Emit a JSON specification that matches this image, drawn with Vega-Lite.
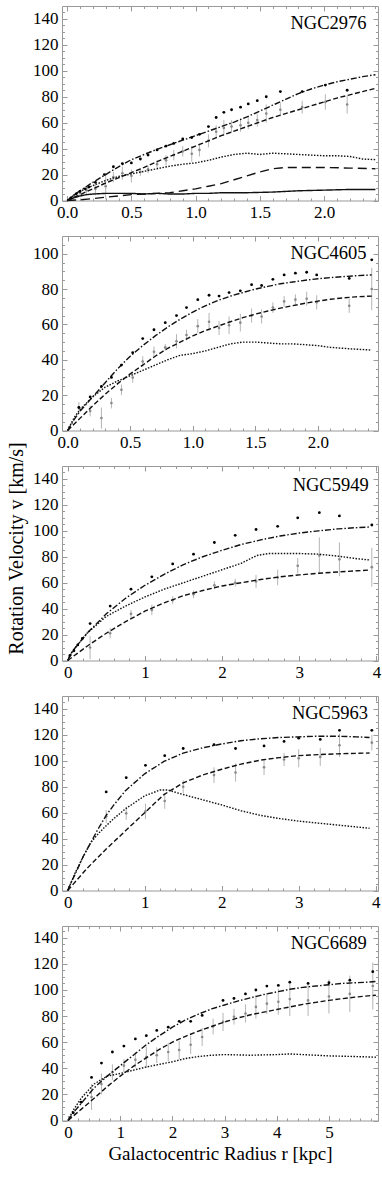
{
"$schema": "https://vega.github.io/schema/vega-lite/v6.json",
"background": "white",
"padding": {"left": 5, "top": 5, "right": 5, "bottom": 5},
"spacing": 35,
"bounds": "flush",
"config": {
  "font": "Liberation Serif",
  "view": {"stroke": "#999", "strokeWidth": 1},
  "axis": {"domain": false, "grid": false, "tickColor": "#999", "tickWidth": 1, "labelFont": "Liberation Serif", "labelFontSize": 17, "labelColor": "#000", "titleFont": "Liberation Serif", "titleFontSize": 19, "titleFontWeight": "normal", "titleColor": "#000", "labelFlush": false, "labelOverlap": false},
  "title": {"font": "Liberation Serif", "fontSize": 18.5, "fontWeight": "normal", "color": "#000"}
},
"datasets": {
"curves": [
{"g":"NGC2976","s":"dd","r":0,"v":0},{"g":"NGC2976","s":"dd","r":0.05,"v":4},{"g":"NGC2976","s":"dd","r":0.1,"v":7.5},{"g":"NGC2976","s":"dd","r":0.2,"v":14},{"g":"NGC2976","s":"dd","r":0.3,"v":20},{"g":"NGC2976","s":"dd","r":0.4,"v":26},{"g":"NGC2976","s":"dd","r":0.5,"v":31.5},{"g":"NGC2976","s":"dd","r":0.6,"v":35.5},{"g":"NGC2976","s":"dd","r":0.7,"v":39.5},{"g":"NGC2976","s":"dd","r":0.8,"v":43},{"g":"NGC2976","s":"dd","r":0.9,"v":46.5},{"g":"NGC2976","s":"dd","r":1.0,"v":50},{"g":"NGC2976","s":"dd","r":1.1,"v":53.5},{"g":"NGC2976","s":"dd","r":1.2,"v":57},{"g":"NGC2976","s":"dd","r":1.3,"v":60.5},{"g":"NGC2976","s":"dd","r":1.4,"v":64.5},{"g":"NGC2976","s":"dd","r":1.5,"v":69},{"g":"NGC2976","s":"dd","r":1.6,"v":73.5},{"g":"NGC2976","s":"dd","r":1.7,"v":78},{"g":"NGC2976","s":"dd","r":1.8,"v":82.5},{"g":"NGC2976","s":"dd","r":1.9,"v":86},{"g":"NGC2976","s":"dd","r":2.0,"v":89},{"g":"NGC2976","s":"dd","r":2.1,"v":91.5},{"g":"NGC2976","s":"dd","r":2.2,"v":93.5},{"g":"NGC2976","s":"dd","r":2.3,"v":95.5},{"g":"NGC2976","s":"dd","r":2.4,"v":97},
{"g":"NGC2976","s":"fit","r":0,"v":0},{"g":"NGC2976","s":"fit","r":0.1,"v":4.5},{"g":"NGC2976","s":"fit","r":0.2,"v":9},{"g":"NGC2976","s":"fit","r":0.3,"v":13.5},{"g":"NGC2976","s":"fit","r":0.4,"v":17.5},{"g":"NGC2976","s":"fit","r":0.5,"v":21.5},{"g":"NGC2976","s":"fit","r":0.6,"v":25.5},{"g":"NGC2976","s":"fit","r":0.7,"v":30},{"g":"NGC2976","s":"fit","r":0.8,"v":34},{"g":"NGC2976","s":"fit","r":0.9,"v":38},{"g":"NGC2976","s":"fit","r":1.0,"v":42},{"g":"NGC2976","s":"fit","r":1.1,"v":46},{"g":"NGC2976","s":"fit","r":1.2,"v":50},{"g":"NGC2976","s":"fit","r":1.3,"v":53.5},{"g":"NGC2976","s":"fit","r":1.4,"v":57},{"g":"NGC2976","s":"fit","r":1.5,"v":60.5},{"g":"NGC2976","s":"fit","r":1.6,"v":64},{"g":"NGC2976","s":"fit","r":1.7,"v":67},{"g":"NGC2976","s":"fit","r":1.8,"v":70},{"g":"NGC2976","s":"fit","r":1.9,"v":73},{"g":"NGC2976","s":"fit","r":2.0,"v":76},{"g":"NGC2976","s":"fit","r":2.1,"v":79},{"g":"NGC2976","s":"fit","r":2.2,"v":81.5},{"g":"NGC2976","s":"fit","r":2.3,"v":84},{"g":"NGC2976","s":"fit","r":2.4,"v":86.5},
{"g":"NGC2976","s":"dot","r":0,"v":0},{"g":"NGC2976","s":"dot","r":0.05,"v":4},{"g":"NGC2976","s":"dot","r":0.1,"v":7},{"g":"NGC2976","s":"dot","r":0.2,"v":11.5},{"g":"NGC2976","s":"dot","r":0.3,"v":15.5},{"g":"NGC2976","s":"dot","r":0.4,"v":18.5},{"g":"NGC2976","s":"dot","r":0.5,"v":20.5},{"g":"NGC2976","s":"dot","r":0.6,"v":22.5},{"g":"NGC2976","s":"dot","r":0.7,"v":24.5},{"g":"NGC2976","s":"dot","r":0.8,"v":26.5},{"g":"NGC2976","s":"dot","r":0.9,"v":28},{"g":"NGC2976","s":"dot","r":1.0,"v":29},{"g":"NGC2976","s":"dot","r":1.1,"v":31},{"g":"NGC2976","s":"dot","r":1.2,"v":33.5},{"g":"NGC2976","s":"dot","r":1.3,"v":35.5},{"g":"NGC2976","s":"dot","r":1.4,"v":36.5},{"g":"NGC2976","s":"dot","r":1.5,"v":35.5},{"g":"NGC2976","s":"dot","r":1.6,"v":36.5},{"g":"NGC2976","s":"dot","r":1.7,"v":36},{"g":"NGC2976","s":"dot","r":1.8,"v":35.5},{"g":"NGC2976","s":"dot","r":1.9,"v":35},{"g":"NGC2976","s":"dot","r":2.0,"v":34.5},{"g":"NGC2976","s":"dot","r":2.1,"v":34.5},{"g":"NGC2976","s":"dot","r":2.2,"v":34},{"g":"NGC2976","s":"dot","r":2.3,"v":32},{"g":"NGC2976","s":"dot","r":2.4,"v":31.5},
{"g":"NGC2976","s":"ldash","r":0,"v":0},{"g":"NGC2976","s":"ldash","r":0.1,"v":0.5},{"g":"NGC2976","s":"ldash","r":0.2,"v":1.5},{"g":"NGC2976","s":"ldash","r":0.3,"v":2.5},{"g":"NGC2976","s":"ldash","r":0.4,"v":3.5},{"g":"NGC2976","s":"ldash","r":0.5,"v":4.5},{"g":"NGC2976","s":"ldash","r":0.6,"v":5},{"g":"NGC2976","s":"ldash","r":0.7,"v":5.5},{"g":"NGC2976","s":"ldash","r":0.8,"v":6},{"g":"NGC2976","s":"ldash","r":0.9,"v":7.5},{"g":"NGC2976","s":"ldash","r":1.0,"v":9},{"g":"NGC2976","s":"ldash","r":1.1,"v":11},{"g":"NGC2976","s":"ldash","r":1.2,"v":13},{"g":"NGC2976","s":"ldash","r":1.3,"v":16},{"g":"NGC2976","s":"ldash","r":1.4,"v":19},{"g":"NGC2976","s":"ldash","r":1.5,"v":22},{"g":"NGC2976","s":"ldash","r":1.6,"v":24.5},{"g":"NGC2976","s":"ldash","r":1.7,"v":25.5},{"g":"NGC2976","s":"ldash","r":1.8,"v":25.5},{"g":"NGC2976","s":"ldash","r":2.0,"v":25.5},{"g":"NGC2976","s":"ldash","r":2.2,"v":25},{"g":"NGC2976","s":"ldash","r":2.4,"v":24.5},
{"g":"NGC2976","s":"solid","r":0,"v":0},{"g":"NGC2976","s":"solid","r":0.05,"v":2},{"g":"NGC2976","s":"solid","r":0.1,"v":3.5},{"g":"NGC2976","s":"solid","r":0.15,"v":4.5},{"g":"NGC2976","s":"solid","r":0.2,"v":5},{"g":"NGC2976","s":"solid","r":0.3,"v":5.5},{"g":"NGC2976","s":"solid","r":0.5,"v":5.5},{"g":"NGC2976","s":"solid","r":0.6,"v":5},{"g":"NGC2976","s":"solid","r":0.7,"v":5.5},{"g":"NGC2976","s":"solid","r":0.8,"v":5},{"g":"NGC2976","s":"solid","r":0.9,"v":5},{"g":"NGC2976","s":"solid","r":1.0,"v":5.5},{"g":"NGC2976","s":"solid","r":1.1,"v":5.5},{"g":"NGC2976","s":"solid","r":1.2,"v":6},{"g":"NGC2976","s":"solid","r":1.4,"v":6},{"g":"NGC2976","s":"solid","r":1.6,"v":6.5},{"g":"NGC2976","s":"solid","r":1.8,"v":7.5},{"g":"NGC2976","s":"solid","r":2.0,"v":8},{"g":"NGC2976","s":"solid","r":2.2,"v":8.5},{"g":"NGC2976","s":"solid","r":2.4,"v":8.5},

{"g":"NGC4605","s":"dd","r":0,"v":0},{"g":"NGC4605","s":"dd","r":0.05,"v":6},{"g":"NGC4605","s":"dd","r":0.1,"v":11},{"g":"NGC4605","s":"dd","r":0.2,"v":19},{"g":"NGC4605","s":"dd","r":0.3,"v":27},{"g":"NGC4605","s":"dd","r":0.4,"v":35},{"g":"NGC4605","s":"dd","r":0.5,"v":42},{"g":"NGC4605","s":"dd","r":0.6,"v":48},{"g":"NGC4605","s":"dd","r":0.7,"v":53.5},{"g":"NGC4605","s":"dd","r":0.8,"v":58.5},{"g":"NGC4605","s":"dd","r":0.9,"v":63},{"g":"NGC4605","s":"dd","r":1.0,"v":67},{"g":"NGC4605","s":"dd","r":1.1,"v":70.5},{"g":"NGC4605","s":"dd","r":1.2,"v":73.5},{"g":"NGC4605","s":"dd","r":1.3,"v":76},{"g":"NGC4605","s":"dd","r":1.4,"v":78},{"g":"NGC4605","s":"dd","r":1.5,"v":80},{"g":"NGC4605","s":"dd","r":1.6,"v":81.5},{"g":"NGC4605","s":"dd","r":1.7,"v":83},{"g":"NGC4605","s":"dd","r":1.8,"v":84},{"g":"NGC4605","s":"dd","r":1.9,"v":85},{"g":"NGC4605","s":"dd","r":2.0,"v":85.8},{"g":"NGC4605","s":"dd","r":2.1,"v":86.5},{"g":"NGC4605","s":"dd","r":2.2,"v":87},{"g":"NGC4605","s":"dd","r":2.3,"v":87.5},{"g":"NGC4605","s":"dd","r":2.43,"v":88},
{"g":"NGC4605","s":"fit","r":0,"v":0},{"g":"NGC4605","s":"fit","r":0.1,"v":7},{"g":"NGC4605","s":"fit","r":0.2,"v":14},{"g":"NGC4605","s":"fit","r":0.3,"v":20.5},{"g":"NGC4605","s":"fit","r":0.4,"v":26.5},{"g":"NGC4605","s":"fit","r":0.5,"v":32},{"g":"NGC4605","s":"fit","r":0.6,"v":37},{"g":"NGC4605","s":"fit","r":0.7,"v":42},{"g":"NGC4605","s":"fit","r":0.8,"v":46.5},{"g":"NGC4605","s":"fit","r":0.9,"v":50},{"g":"NGC4605","s":"fit","r":1.0,"v":53.5},{"g":"NGC4605","s":"fit","r":1.1,"v":56.5},{"g":"NGC4605","s":"fit","r":1.2,"v":59},{"g":"NGC4605","s":"fit","r":1.3,"v":61.5},{"g":"NGC4605","s":"fit","r":1.4,"v":63.8},{"g":"NGC4605","s":"fit","r":1.5,"v":65.8},{"g":"NGC4605","s":"fit","r":1.6,"v":67.6},{"g":"NGC4605","s":"fit","r":1.7,"v":69.2},{"g":"NGC4605","s":"fit","r":1.8,"v":70.6},{"g":"NGC4605","s":"fit","r":1.9,"v":72},{"g":"NGC4605","s":"fit","r":2.0,"v":73.2},{"g":"NGC4605","s":"fit","r":2.1,"v":74.2},{"g":"NGC4605","s":"fit","r":2.2,"v":75},{"g":"NGC4605","s":"fit","r":2.3,"v":75.6},{"g":"NGC4605","s":"fit","r":2.43,"v":76},
{"g":"NGC4605","s":"dot","r":0,"v":0},{"g":"NGC4605","s":"dot","r":0.05,"v":7},{"g":"NGC4605","s":"dot","r":0.1,"v":12},{"g":"NGC4605","s":"dot","r":0.2,"v":19},{"g":"NGC4605","s":"dot","r":0.3,"v":24.5},{"g":"NGC4605","s":"dot","r":0.4,"v":28},{"g":"NGC4605","s":"dot","r":0.5,"v":31},{"g":"NGC4605","s":"dot","r":0.6,"v":34},{"g":"NGC4605","s":"dot","r":0.7,"v":37},{"g":"NGC4605","s":"dot","r":0.8,"v":40},{"g":"NGC4605","s":"dot","r":0.9,"v":42.5},{"g":"NGC4605","s":"dot","r":1.0,"v":43.5},{"g":"NGC4605","s":"dot","r":1.1,"v":45},{"g":"NGC4605","s":"dot","r":1.2,"v":47},{"g":"NGC4605","s":"dot","r":1.3,"v":49},{"g":"NGC4605","s":"dot","r":1.4,"v":50},{"g":"NGC4605","s":"dot","r":1.5,"v":50},{"g":"NGC4605","s":"dot","r":1.6,"v":49.5},{"g":"NGC4605","s":"dot","r":1.7,"v":49},{"g":"NGC4605","s":"dot","r":1.8,"v":49},{"g":"NGC4605","s":"dot","r":1.9,"v":48.5},{"g":"NGC4605","s":"dot","r":2.0,"v":48},{"g":"NGC4605","s":"dot","r":2.1,"v":47},{"g":"NGC4605","s":"dot","r":2.2,"v":46.5},{"g":"NGC4605","s":"dot","r":2.3,"v":46},{"g":"NGC4605","s":"dot","r":2.43,"v":45.5},

{"g":"NGC5949","s":"dd","r":0,"v":0},{"g":"NGC5949","s":"dd","r":0.05,"v":6},{"g":"NGC5949","s":"dd","r":0.1,"v":10},{"g":"NGC5949","s":"dd","r":0.25,"v":21},{"g":"NGC5949","s":"dd","r":0.5,"v":36},{"g":"NGC5949","s":"dd","r":0.75,"v":48},{"g":"NGC5949","s":"dd","r":1.0,"v":58},{"g":"NGC5949","s":"dd","r":1.25,"v":66.5},{"g":"NGC5949","s":"dd","r":1.5,"v":74},{"g":"NGC5949","s":"dd","r":1.75,"v":80},{"g":"NGC5949","s":"dd","r":2.0,"v":85},{"g":"NGC5949","s":"dd","r":2.25,"v":89.5},{"g":"NGC5949","s":"dd","r":2.5,"v":93},{"g":"NGC5949","s":"dd","r":2.75,"v":96},{"g":"NGC5949","s":"dd","r":3.0,"v":98.3},{"g":"NGC5949","s":"dd","r":3.25,"v":100},{"g":"NGC5949","s":"dd","r":3.5,"v":101.5},{"g":"NGC5949","s":"dd","r":3.75,"v":102.5},{"g":"NGC5949","s":"dd","r":3.92,"v":103},
{"g":"NGC5949","s":"dot","r":0,"v":0},{"g":"NGC5949","s":"dot","r":0.05,"v":6},{"g":"NGC5949","s":"dot","r":0.1,"v":10},{"g":"NGC5949","s":"dot","r":0.25,"v":21},{"g":"NGC5949","s":"dot","r":0.5,"v":34},{"g":"NGC5949","s":"dot","r":0.75,"v":42},{"g":"NGC5949","s":"dot","r":1.0,"v":49},{"g":"NGC5949","s":"dot","r":1.25,"v":55},{"g":"NGC5949","s":"dot","r":1.5,"v":60},{"g":"NGC5949","s":"dot","r":1.75,"v":65},{"g":"NGC5949","s":"dot","r":2.0,"v":70},{"g":"NGC5949","s":"dot","r":2.25,"v":75},{"g":"NGC5949","s":"dot","r":2.45,"v":81},{"g":"NGC5949","s":"dot","r":2.6,"v":82.5},{"g":"NGC5949","s":"dot","r":2.75,"v":82.5},{"g":"NGC5949","s":"dot","r":3.0,"v":82.5},{"g":"NGC5949","s":"dot","r":3.25,"v":82},{"g":"NGC5949","s":"dot","r":3.5,"v":80.5},{"g":"NGC5949","s":"dot","r":3.75,"v":78.5},{"g":"NGC5949","s":"dot","r":3.92,"v":77.5},
{"g":"NGC5949","s":"fit","r":0,"v":0},{"g":"NGC5949","s":"fit","r":0.25,"v":11},{"g":"NGC5949","s":"fit","r":0.5,"v":21},{"g":"NGC5949","s":"fit","r":0.75,"v":30},{"g":"NGC5949","s":"fit","r":1.0,"v":38},{"g":"NGC5949","s":"fit","r":1.25,"v":44.5},{"g":"NGC5949","s":"fit","r":1.5,"v":50},{"g":"NGC5949","s":"fit","r":1.75,"v":54},{"g":"NGC5949","s":"fit","r":2.0,"v":57.5},{"g":"NGC5949","s":"fit","r":2.25,"v":60},{"g":"NGC5949","s":"fit","r":2.5,"v":62.5},{"g":"NGC5949","s":"fit","r":2.75,"v":64.5},{"g":"NGC5949","s":"fit","r":3.0,"v":66},{"g":"NGC5949","s":"fit","r":3.25,"v":67.3},{"g":"NGC5949","s":"fit","r":3.5,"v":68.3},{"g":"NGC5949","s":"fit","r":3.75,"v":69.2},{"g":"NGC5949","s":"fit","r":3.92,"v":69.8},

{"g":"NGC5963","s":"dd","r":0,"v":0},{"g":"NGC5963","s":"dd","r":0.05,"v":7},{"g":"NGC5963","s":"dd","r":0.1,"v":13},{"g":"NGC5963","s":"dd","r":0.2,"v":26},{"g":"NGC5963","s":"dd","r":0.3,"v":37},{"g":"NGC5963","s":"dd","r":0.4,"v":48},{"g":"NGC5963","s":"dd","r":0.5,"v":58},{"g":"NGC5963","s":"dd","r":0.6,"v":66},{"g":"NGC5963","s":"dd","r":0.75,"v":77},{"g":"NGC5963","s":"dd","r":1.0,"v":90},{"g":"NGC5963","s":"dd","r":1.25,"v":99.5},{"g":"NGC5963","s":"dd","r":1.5,"v":106},{"g":"NGC5963","s":"dd","r":1.75,"v":110},{"g":"NGC5963","s":"dd","r":2.0,"v":113},{"g":"NGC5963","s":"dd","r":2.25,"v":115.5},{"g":"NGC5963","s":"dd","r":2.5,"v":117},{"g":"NGC5963","s":"dd","r":2.75,"v":118},{"g":"NGC5963","s":"dd","r":3.0,"v":118.5},{"g":"NGC5963","s":"dd","r":3.25,"v":119},{"g":"NGC5963","s":"dd","r":3.5,"v":119},{"g":"NGC5963","s":"dd","r":3.75,"v":118.5},{"g":"NGC5963","s":"dd","r":3.92,"v":118},
{"g":"NGC5963","s":"dot","r":0,"v":0},{"g":"NGC5963","s":"dot","r":0.05,"v":7},{"g":"NGC5963","s":"dot","r":0.1,"v":14},{"g":"NGC5963","s":"dot","r":0.2,"v":26},{"g":"NGC5963","s":"dot","r":0.3,"v":37},{"g":"NGC5963","s":"dot","r":0.4,"v":44},{"g":"NGC5963","s":"dot","r":0.5,"v":50},{"g":"NGC5963","s":"dot","r":0.6,"v":55.5},{"g":"NGC5963","s":"dot","r":0.75,"v":63},{"g":"NGC5963","s":"dot","r":1.0,"v":73},{"g":"NGC5963","s":"dot","r":1.2,"v":77.5},{"g":"NGC5963","s":"dot","r":1.3,"v":77.5},{"g":"NGC5963","s":"dot","r":1.5,"v":74},{"g":"NGC5963","s":"dot","r":1.75,"v":70},{"g":"NGC5963","s":"dot","r":2.0,"v":66},{"g":"NGC5963","s":"dot","r":2.25,"v":61.5},{"g":"NGC5963","s":"dot","r":2.5,"v":58},{"g":"NGC5963","s":"dot","r":2.75,"v":55.5},{"g":"NGC5963","s":"dot","r":3.0,"v":53.5},{"g":"NGC5963","s":"dot","r":3.25,"v":52},{"g":"NGC5963","s":"dot","r":3.5,"v":50.5},{"g":"NGC5963","s":"dot","r":3.75,"v":49},{"g":"NGC5963","s":"dot","r":3.92,"v":48},
{"g":"NGC5963","s":"fit","r":0,"v":0},{"g":"NGC5963","s":"fit","r":0.25,"v":17},{"g":"NGC5963","s":"fit","r":0.5,"v":32},{"g":"NGC5963","s":"fit","r":0.75,"v":46},{"g":"NGC5963","s":"fit","r":1.0,"v":60},{"g":"NGC5963","s":"fit","r":1.25,"v":74},{"g":"NGC5963","s":"fit","r":1.5,"v":83},{"g":"NGC5963","s":"fit","r":1.75,"v":89},{"g":"NGC5963","s":"fit","r":2.0,"v":93.5},{"g":"NGC5963","s":"fit","r":2.25,"v":97.5},{"g":"NGC5963","s":"fit","r":2.5,"v":100.5},{"g":"NGC5963","s":"fit","r":2.75,"v":102.5},{"g":"NGC5963","s":"fit","r":3.0,"v":104},{"g":"NGC5963","s":"fit","r":3.25,"v":104.8},{"g":"NGC5963","s":"fit","r":3.5,"v":105.4},{"g":"NGC5963","s":"fit","r":3.75,"v":105.8},{"g":"NGC5963","s":"fit","r":3.92,"v":106},

{"g":"NGC6689","s":"dd","r":0,"v":0},{"g":"NGC6689","s":"dd","r":0.1,"v":6},{"g":"NGC6689","s":"dd","r":0.25,"v":13},{"g":"NGC6689","s":"dd","r":0.5,"v":25},{"g":"NGC6689","s":"dd","r":0.75,"v":34},{"g":"NGC6689","s":"dd","r":1.0,"v":42},{"g":"NGC6689","s":"dd","r":1.25,"v":50},{"g":"NGC6689","s":"dd","r":1.5,"v":58},{"g":"NGC6689","s":"dd","r":1.75,"v":65},{"g":"NGC6689","s":"dd","r":2.0,"v":71.5},{"g":"NGC6689","s":"dd","r":2.25,"v":77},{"g":"NGC6689","s":"dd","r":2.5,"v":81.5},{"g":"NGC6689","s":"dd","r":2.75,"v":85.5},{"g":"NGC6689","s":"dd","r":3.0,"v":88.5},{"g":"NGC6689","s":"dd","r":3.25,"v":91.5},{"g":"NGC6689","s":"dd","r":3.5,"v":94},{"g":"NGC6689","s":"dd","r":3.75,"v":96.5},{"g":"NGC6689","s":"dd","r":4.0,"v":98.5},{"g":"NGC6689","s":"dd","r":4.25,"v":100.5},{"g":"NGC6689","s":"dd","r":4.5,"v":102},{"g":"NGC6689","s":"dd","r":4.75,"v":103},{"g":"NGC6689","s":"dd","r":5.0,"v":104},{"g":"NGC6689","s":"dd","r":5.25,"v":105},{"g":"NGC6689","s":"dd","r":5.5,"v":105.5},{"g":"NGC6689","s":"dd","r":5.75,"v":106},{"g":"NGC6689","s":"dd","r":5.9,"v":106.5},
{"g":"NGC6689","s":"dot","r":0,"v":0},{"g":"NGC6689","s":"dot","r":0.1,"v":8},{"g":"NGC6689","s":"dot","r":0.25,"v":17},{"g":"NGC6689","s":"dot","r":0.5,"v":28},{"g":"NGC6689","s":"dot","r":0.75,"v":34},{"g":"NGC6689","s":"dot","r":1.0,"v":36},{"g":"NGC6689","s":"dot","r":1.25,"v":38.5},{"g":"NGC6689","s":"dot","r":1.5,"v":41},{"g":"NGC6689","s":"dot","r":1.75,"v":43},{"g":"NGC6689","s":"dot","r":2.0,"v":45},{"g":"NGC6689","s":"dot","r":2.25,"v":47.5},{"g":"NGC6689","s":"dot","r":2.5,"v":49},{"g":"NGC6689","s":"dot","r":2.75,"v":50},{"g":"NGC6689","s":"dot","r":3.0,"v":50.5},{"g":"NGC6689","s":"dot","r":3.5,"v":50},{"g":"NGC6689","s":"dot","r":4.0,"v":50.5},{"g":"NGC6689","s":"dot","r":4.25,"v":51},{"g":"NGC6689","s":"dot","r":4.5,"v":50.5},{"g":"NGC6689","s":"dot","r":5.0,"v":49.5},{"g":"NGC6689","s":"dot","r":5.5,"v":49},{"g":"NGC6689","s":"dot","r":5.9,"v":48.5},
{"g":"NGC6689","s":"fit","r":0,"v":0},{"g":"NGC6689","s":"fit","r":0.25,"v":8.5},{"g":"NGC6689","s":"fit","r":0.5,"v":17},{"g":"NGC6689","s":"fit","r":0.75,"v":26},{"g":"NGC6689","s":"fit","r":1.0,"v":34},{"g":"NGC6689","s":"fit","r":1.25,"v":41.5},{"g":"NGC6689","s":"fit","r":1.5,"v":48},{"g":"NGC6689","s":"fit","r":1.75,"v":54.5},{"g":"NGC6689","s":"fit","r":2.0,"v":60},{"g":"NGC6689","s":"fit","r":2.25,"v":64.5},{"g":"NGC6689","s":"fit","r":2.5,"v":68.5},{"g":"NGC6689","s":"fit","r":2.75,"v":72},{"g":"NGC6689","s":"fit","r":3.0,"v":75.5},{"g":"NGC6689","s":"fit","r":3.25,"v":78.5},{"g":"NGC6689","s":"fit","r":3.5,"v":81},{"g":"NGC6689","s":"fit","r":3.75,"v":83},{"g":"NGC6689","s":"fit","r":4.0,"v":85},{"g":"NGC6689","s":"fit","r":4.25,"v":87},{"g":"NGC6689","s":"fit","r":4.5,"v":89},{"g":"NGC6689","s":"fit","r":4.75,"v":90.5},{"g":"NGC6689","s":"fit","r":5.0,"v":92},{"g":"NGC6689","s":"fit","r":5.25,"v":93.3},{"g":"NGC6689","s":"fit","r":5.5,"v":94.5},{"g":"NGC6689","s":"fit","r":5.75,"v":95.5},{"g":"NGC6689","s":"fit","r":5.9,"v":96}
],
"obs": [
{"g":"NGC2976","r":0.03,"v":2},{"g":"NGC2976","r":0.07,"v":5},{"g":"NGC2976","r":0.1,"v":7},{"g":"NGC2976","r":0.14,"v":9},{"g":"NGC2976","r":0.17,"v":10.5},{"g":"NGC2976","r":0.22,"v":14},{"g":"NGC2976","r":0.29,"v":20},{"g":"NGC2976","r":0.36,"v":26},{"g":"NGC2976","r":0.43,"v":28.5},{"g":"NGC2976","r":0.5,"v":29},{"g":"NGC2976","r":0.57,"v":32},{"g":"NGC2976","r":0.63,"v":35},{"g":"NGC2976","r":0.7,"v":39},{"g":"NGC2976","r":0.77,"v":42},{"g":"NGC2976","r":0.83,"v":44},{"g":"NGC2976","r":0.9,"v":47.5},{"g":"NGC2976","r":0.97,"v":48.5},{"g":"NGC2976","r":1.03,"v":51},{"g":"NGC2976","r":1.1,"v":57},{"g":"NGC2976","r":1.16,"v":64},{"g":"NGC2976","r":1.22,"v":68},{"g":"NGC2976","r":1.28,"v":70},{"g":"NGC2976","r":1.35,"v":72},{"g":"NGC2976","r":1.41,"v":74.5},{"g":"NGC2976","r":1.48,"v":77},{"g":"NGC2976","r":1.55,"v":80},{"g":"NGC2976","r":1.66,"v":84},{"g":"NGC2976","r":1.83,"v":84},{"g":"NGC2976","r":2.01,"v":89},{"g":"NGC2976","r":2.18,"v":85},
{"g":"NGC4605","r":0.09,"v":13},{"g":"NGC4605","r":0.18,"v":19},{"g":"NGC4605","r":0.27,"v":25},{"g":"NGC4605","r":0.35,"v":30},{"g":"NGC4605","r":0.43,"v":37},{"g":"NGC4605","r":0.52,"v":44},{"g":"NGC4605","r":0.6,"v":52},{"g":"NGC4605","r":0.69,"v":57},{"g":"NGC4605","r":0.78,"v":61},{"g":"NGC4605","r":0.87,"v":65},{"g":"NGC4605","r":0.95,"v":69.5},{"g":"NGC4605","r":1.04,"v":74},{"g":"NGC4605","r":1.13,"v":76.5},{"g":"NGC4605","r":1.21,"v":76},{"g":"NGC4605","r":1.29,"v":78},{"g":"NGC4605","r":1.38,"v":79},{"g":"NGC4605","r":1.47,"v":82.5},{"g":"NGC4605","r":1.55,"v":82},{"g":"NGC4605","r":1.64,"v":85.5},{"g":"NGC4605","r":1.73,"v":88},{"g":"NGC4605","r":1.82,"v":89},{"g":"NGC4605","r":1.91,"v":89.5},{"g":"NGC4605","r":1.99,"v":88},{"g":"NGC4605","r":2.25,"v":86},{"g":"NGC4605","r":2.43,"v":96.5},
{"g":"NGC5949","r":0.03,"v":4},{"g":"NGC5949","r":0.08,"v":7.5},{"g":"NGC5949","r":0.13,"v":12},{"g":"NGC5949","r":0.19,"v":17},{"g":"NGC5949","r":0.29,"v":28.5},{"g":"NGC5949","r":0.55,"v":42},{"g":"NGC5949","r":0.82,"v":55},{"g":"NGC5949","r":1.09,"v":64.5},{"g":"NGC5949","r":1.36,"v":74.5},{"g":"NGC5949","r":1.63,"v":82},{"g":"NGC5949","r":1.9,"v":91},{"g":"NGC5949","r":2.17,"v":96.5},{"g":"NGC5949","r":2.44,"v":101},{"g":"NGC5949","r":2.72,"v":103.5},{"g":"NGC5949","r":2.98,"v":110},{"g":"NGC5949","r":3.26,"v":114},{"g":"NGC5949","r":3.52,"v":111.5},{"g":"NGC5949","r":3.94,"v":104.5},
{"g":"NGC5963","r":0.5,"v":76},{"g":"NGC5963","r":0.76,"v":87},{"g":"NGC5963","r":1.01,"v":96.5},{"g":"NGC5963","r":1.26,"v":104},{"g":"NGC5963","r":1.5,"v":109.5},{"g":"NGC5963","r":1.9,"v":112.5},{"g":"NGC5963","r":2.18,"v":109.5},{"g":"NGC5963","r":2.55,"v":111.5},{"g":"NGC5963","r":2.81,"v":115},{"g":"NGC5963","r":3.0,"v":117.5},{"g":"NGC5963","r":3.28,"v":116.5},{"g":"NGC5963","r":3.53,"v":123.5},{"g":"NGC5963","r":3.95,"v":123.5},
{"g":"NGC6689","r":0.1,"v":6},{"g":"NGC6689","r":0.25,"v":14},{"g":"NGC6689","r":0.45,"v":33},{"g":"NGC6689","r":0.64,"v":44},{"g":"NGC6689","r":0.85,"v":52.5},{"g":"NGC6689","r":1.07,"v":57},{"g":"NGC6689","r":1.29,"v":62.5},{"g":"NGC6689","r":1.5,"v":65},{"g":"NGC6689","r":1.7,"v":69},{"g":"NGC6689","r":1.92,"v":71.5},{"g":"NGC6689","r":2.13,"v":76},{"g":"NGC6689","r":2.35,"v":76},{"g":"NGC6689","r":2.57,"v":80.5},{"g":"NGC6689","r":2.97,"v":92},{"g":"NGC6689","r":3.18,"v":93.5},{"g":"NGC6689","r":3.4,"v":97},{"g":"NGC6689","r":3.6,"v":100},{"g":"NGC6689","r":3.81,"v":103},{"g":"NGC6689","r":4.03,"v":103.5},{"g":"NGC6689","r":4.25,"v":106},{"g":"NGC6689","r":4.6,"v":105},{"g":"NGC6689","r":5.0,"v":105.5},{"g":"NGC6689","r":5.4,"v":107.5},{"g":"NGC6689","r":5.84,"v":114}
],
"err": [
{"g":"NGC2976","r":0.05,"v":3,"lo":1,"hi":5},{"g":"NGC2976","r":0.1,"v":6,"lo":4,"hi":8},{"g":"NGC2976","r":0.15,"v":8,"lo":5,"hi":11},{"g":"NGC2976","r":0.22,"v":9,"lo":4,"hi":14},{"g":"NGC2976","r":0.3,"v":11,"lo":1,"hi":21},{"g":"NGC2976","r":0.36,"v":18,"lo":14,"hi":22},{"g":"NGC2976","r":0.43,"v":21,"lo":16,"hi":26},{"g":"NGC2976","r":0.5,"v":19,"lo":14,"hi":24},{"g":"NGC2976","r":0.57,"v":22,"lo":19,"hi":25},{"g":"NGC2976","r":0.63,"v":24,"lo":21,"hi":27},{"g":"NGC2976","r":0.7,"v":28,"lo":25,"hi":31},{"g":"NGC2976","r":0.77,"v":31,"lo":27,"hi":35},{"g":"NGC2976","r":0.83,"v":35,"lo":31,"hi":39},{"g":"NGC2976","r":0.9,"v":38,"lo":34,"hi":42},{"g":"NGC2976","r":0.97,"v":36,"lo":30,"hi":42},{"g":"NGC2976","r":1.03,"v":39,"lo":34,"hi":44},{"g":"NGC2976","r":1.1,"v":46,"lo":41,"hi":51},{"g":"NGC2976","r":1.16,"v":53,"lo":48,"hi":58},{"g":"NGC2976","r":1.22,"v":56,"lo":50,"hi":62},{"g":"NGC2976","r":1.28,"v":57,"lo":52,"hi":62},{"g":"NGC2976","r":1.35,"v":58,"lo":53,"hi":63},{"g":"NGC2976","r":1.41,"v":60,"lo":55,"hi":65},{"g":"NGC2976","r":1.48,"v":62,"lo":57,"hi":67},{"g":"NGC2976","r":1.55,"v":67,"lo":60,"hi":74},{"g":"NGC2976","r":1.66,"v":70,"lo":65,"hi":75},{"g":"NGC2976","r":1.83,"v":72,"lo":67,"hi":77},{"g":"NGC2976","r":2.01,"v":76,"lo":70,"hi":82},{"g":"NGC2976","r":2.18,"v":74,"lo":67,"hi":81},
{"g":"NGC4605","r":0.09,"v":13,"lo":10,"hi":16},{"g":"NGC4605","r":0.18,"v":11,"lo":8,"hi":14},{"g":"NGC4605","r":0.27,"v":7,"lo":1,"hi":13},{"g":"NGC4605","r":0.35,"v":15.5,"lo":12.5,"hi":18.5},{"g":"NGC4605","r":0.43,"v":23,"lo":20,"hi":26},{"g":"NGC4605","r":0.52,"v":30,"lo":27,"hi":33},{"g":"NGC4605","r":0.6,"v":39,"lo":36,"hi":42},{"g":"NGC4605","r":0.69,"v":44.5,"lo":41.5,"hi":47.5},{"g":"NGC4605","r":0.78,"v":47,"lo":45,"hi":49},{"g":"NGC4605","r":0.87,"v":50.5,"lo":46.5,"hi":54.5},{"g":"NGC4605","r":0.95,"v":54,"lo":51,"hi":57},{"g":"NGC4605","r":1.04,"v":59,"lo":55,"hi":63},{"g":"NGC4605","r":1.13,"v":61.5,"lo":56.5,"hi":66.5},{"g":"NGC4605","r":1.21,"v":58,"lo":54,"hi":62},{"g":"NGC4605","r":1.29,"v":59.5,"lo":54.5,"hi":64.5},{"g":"NGC4605","r":1.38,"v":61,"lo":56,"hi":66},{"g":"NGC4605","r":1.47,"v":65,"lo":61,"hi":69},{"g":"NGC4605","r":1.55,"v":64.5,"lo":60.5,"hi":68.5},{"g":"NGC4605","r":1.64,"v":69.5,"lo":66.5,"hi":72.5},{"g":"NGC4605","r":1.73,"v":73,"lo":70,"hi":76},{"g":"NGC4605","r":1.82,"v":74,"lo":71,"hi":77},{"g":"NGC4605","r":1.91,"v":74.5,"lo":70.5,"hi":78.5},{"g":"NGC4605","r":1.99,"v":72.5,"lo":68.5,"hi":76.5},{"g":"NGC4605","r":2.25,"v":70.5,"lo":66.5,"hi":74.5},{"g":"NGC4605","r":2.43,"v":80,"lo":68,"hi":92},
{"g":"NGC5949","r":0.29,"v":10,"lo":1,"hi":19},{"g":"NGC5949","r":0.55,"v":21,"lo":17,"hi":25},{"g":"NGC5949","r":0.82,"v":36,"lo":33,"hi":39},{"g":"NGC5949","r":1.09,"v":39,"lo":35,"hi":43},{"g":"NGC5949","r":1.36,"v":46.5,"lo":43.5,"hi":49.5},{"g":"NGC5949","r":1.63,"v":51,"lo":48,"hi":54},{"g":"NGC5949","r":1.9,"v":58,"lo":55,"hi":61},{"g":"NGC5949","r":2.17,"v":60,"lo":57,"hi":63},{"g":"NGC5949","r":2.44,"v":61,"lo":56,"hi":66},{"g":"NGC5949","r":2.72,"v":64,"lo":58,"hi":70},{"g":"NGC5949","r":2.98,"v":73,"lo":67,"hi":79},{"g":"NGC5949","r":3.26,"v":81,"lo":67,"hi":95},{"g":"NGC5949","r":3.52,"v":78,"lo":65,"hi":91},{"g":"NGC5949","r":3.94,"v":72,"lo":57,"hi":87},
{"g":"NGC5963","r":0.5,"v":57,"lo":52,"hi":62},{"g":"NGC5963","r":0.76,"v":59.5,"lo":54.5,"hi":64.5},{"g":"NGC5963","r":1.01,"v":61,"lo":55,"hi":67},{"g":"NGC5963","r":1.26,"v":69,"lo":63,"hi":75},{"g":"NGC5963","r":1.5,"v":80,"lo":75,"hi":85},{"g":"NGC5963","r":1.9,"v":89,"lo":83,"hi":95},{"g":"NGC5963","r":2.18,"v":91,"lo":84,"hi":98},{"g":"NGC5963","r":2.55,"v":95,"lo":89,"hi":101},{"g":"NGC5963","r":2.81,"v":101,"lo":96,"hi":106},{"g":"NGC5963","r":3.0,"v":102,"lo":95,"hi":109},{"g":"NGC5963","r":3.28,"v":103,"lo":96,"hi":110},{"g":"NGC5963","r":3.53,"v":112,"lo":103,"hi":121},{"g":"NGC5963","r":3.95,"v":114,"lo":108,"hi":120},
{"g":"NGC6689","r":0.45,"v":18,"lo":8,"hi":28},{"g":"NGC6689","r":0.64,"v":28,"lo":20,"hi":36},{"g":"NGC6689","r":0.85,"v":37,"lo":31,"hi":43},{"g":"NGC6689","r":1.07,"v":42,"lo":37,"hi":47},{"g":"NGC6689","r":1.29,"v":46.5,"lo":40.5,"hi":52.5},{"g":"NGC6689","r":1.5,"v":48.5,"lo":40.5,"hi":56.5},{"g":"NGC6689","r":1.7,"v":50,"lo":44,"hi":56},{"g":"NGC6689","r":1.92,"v":52.5,"lo":45.5,"hi":59.5},{"g":"NGC6689","r":2.13,"v":54,"lo":47,"hi":61},{"g":"NGC6689","r":2.35,"v":58,"lo":51,"hi":65},{"g":"NGC6689","r":2.57,"v":64,"lo":57,"hi":71},{"g":"NGC6689","r":2.78,"v":72,"lo":66,"hi":78},{"g":"NGC6689","r":2.97,"v":75.5,"lo":68.5,"hi":82.5},{"g":"NGC6689","r":3.18,"v":79.5,"lo":73.5,"hi":85.5},{"g":"NGC6689","r":3.4,"v":82,"lo":75,"hi":89},{"g":"NGC6689","r":3.6,"v":87,"lo":78,"hi":96},{"g":"NGC6689","r":3.81,"v":89.5,"lo":81.5,"hi":97.5},{"g":"NGC6689","r":4.03,"v":91,"lo":81,"hi":101},{"g":"NGC6689","r":4.25,"v":93,"lo":80,"hi":106},{"g":"NGC6689","r":4.6,"v":92,"lo":80,"hi":104},{"g":"NGC6689","r":5.0,"v":95,"lo":82,"hi":108},{"g":"NGC6689","r":5.4,"v":97,"lo":83,"hi":111},{"g":"NGC6689","r":5.84,"v":103,"lo":85,"hi":121}
]
},
"vconcat": [
{
 "width": 316, "height": 194.5,
 "title": {"text": "NGC2976", "anchor": "end", "offset": -27, "dx": -12},
 "resolve": {"axis": {"x": "independent", "y": "independent"}},
 "layer": [
  {"data": {"name": "err"}, "transform": [{"filter": "datum.g === 'NGC2976'"}], "mark": {"type": "rule", "color": "#b5b5b5", "strokeWidth": 1},
   "encoding": {
    "x": {"field": "r", "type": "quantitative", "scale": {"domain": [-0.04, 2.42], "nice": false, "zero": false}, "axis": {"orient": "bottom", "values": [0, 0.5, 1, 1.5, 2], "format": ".1f", "tickSize": -5, "labelPadding": 9, "title": null}},
    "y": {"field": "lo", "type": "quantitative", "scale": {"domain": [0, 150], "nice": false, "zero": false}, "axis": {"orient": "left", "values": [0, 20, 40, 60, 80, 100, 120, 140], "tickSize": -5, "labelPadding": 9, "title": null}},
    "y2": {"field": "hi"}}},
  {"data": {"name": "err"}, "transform": [{"filter": "datum.g === 'NGC2976'"}], "mark": {"type": "point", "filled": true, "size": 7, "color": "#8a8a8a", "opacity": 1},
   "encoding": {
    "x": {"field": "r", "type": "quantitative", "scale": {"domain": [-0.04, 2.42], "nice": false, "zero": false}, "axis": {"orient": "top", "values": [0, 0.5, 1, 1.5, 2], "labels": false, "tickSize": -5, "title": null}},
    "y": {"field": "v", "type": "quantitative", "scale": {"domain": [0, 150], "nice": false, "zero": false}, "axis": {"orient": "right", "values": [0, 20, 40, 60, 80, 100, 120, 140], "labels": false, "tickSize": -5, "title": null}}}},
  {"data": {"name": "curves"}, "transform": [{"filter": "datum.g === 'NGC2976'"}], "mark": {"type": "line", "color": "#111", "strokeWidth": 1.4},
   "encoding": {
    "x": {"field": "r", "type": "quantitative", "scale": {"domain": [-0.04, 2.42], "nice": false, "zero": false}, "axis": {"orient": "bottom", "values": [0.1,0.2,0.3,0.4,0.6,0.7,0.8,0.9,1.1,1.2,1.3,1.4,1.6,1.7,1.8,1.9,2.1,2.2,2.3,2.4], "labels": false, "tickSize": -2.5, "title": null}},
    "y": {"field": "v", "type": "quantitative", "scale": {"domain": [0, 150], "nice": false, "zero": false}, "axis": {"orient": "left", "values": [5,10,15,25,30,35,45,50,55,65,70,75,85,90,95,105,110,115,125,130,135,145], "labels": false, "tickSize": -2.5, "title": null}},
    "strokeDash": {"field": "s", "type": "nominal", "scale": {"domain": ["dd", "fit", "dot", "ldash", "solid"], "range": [[6, 2, 1.5, 2], [5, 2.5], [1.5, 1.5], [9, 5], [1, 0]]}, "legend": null}}},
  {"data": {"name": "obs"}, "transform": [{"filter": "datum.g === 'NGC2976'"}], "mark": {"type": "circle", "size": 8, "color": "#000", "opacity": 1},
   "encoding": {
    "x": {"field": "r", "type": "quantitative", "scale": {"domain": [-0.04, 2.42], "nice": false, "zero": false}, "axis": {"orient": "top", "values": [0.1,0.2,0.3,0.4,0.6,0.7,0.8,0.9,1.1,1.2,1.3,1.4,1.6,1.7,1.8,1.9,2.1,2.2,2.3,2.4], "labels": false, "tickSize": -2.5, "title": null}},
    "y": {"field": "v", "type": "quantitative", "scale": {"domain": [0, 150], "nice": false, "zero": false}, "axis": {"orient": "right", "values": [5,10,15,25,30,35,45,50,55,65,70,75,85,90,95,105,110,115,125,130,135,145], "labels": false, "tickSize": -2.5, "title": null}}}}
 ]
},
{
 "width": 316, "height": 194.5,
 "title": {"text": "NGC4605", "anchor": "end", "offset": -27, "dx": -12},
 "resolve": {"axis": {"x": "independent", "y": "independent"}},
 "layer": [
  {"data": {"name": "err"}, "transform": [{"filter": "datum.g === 'NGC4605'"}], "mark": {"type": "rule", "color": "#b5b5b5", "strokeWidth": 1},
   "encoding": {
    "x": {"field": "r", "type": "quantitative", "scale": {"domain": [-0.045, 2.48], "nice": false, "zero": false}, "axis": {"orient": "bottom", "values": [0, 0.5, 1, 1.5, 2], "format": ".1f", "tickSize": -5, "labelPadding": 9, "title": null}},
    "y": {"field": "lo", "type": "quantitative", "scale": {"domain": [0, 110], "nice": false, "zero": false}, "axis": {"orient": "left", "values": [0, 20, 40, 60, 80, 100], "tickSize": -5, "labelPadding": 9, "title": null}},
    "y2": {"field": "hi"}}},
  {"data": {"name": "err"}, "transform": [{"filter": "datum.g === 'NGC4605'"}], "mark": {"type": "point", "filled": true, "size": 7, "color": "#8a8a8a", "opacity": 1},
   "encoding": {
    "x": {"field": "r", "type": "quantitative", "scale": {"domain": [-0.045, 2.48], "nice": false, "zero": false}, "axis": {"orient": "top", "values": [0, 0.5, 1, 1.5, 2], "labels": false, "tickSize": -5, "title": null}},
    "y": {"field": "v", "type": "quantitative", "scale": {"domain": [0, 110], "nice": false, "zero": false}, "axis": {"orient": "right", "values": [0, 20, 40, 60, 80, 100], "labels": false, "tickSize": -5, "title": null}}}},
  {"data": {"name": "curves"}, "transform": [{"filter": "datum.g === 'NGC4605'"}], "mark": {"type": "line", "color": "#111", "strokeWidth": 1.4},
   "encoding": {
    "x": {"field": "r", "type": "quantitative", "scale": {"domain": [-0.045, 2.48], "nice": false, "zero": false}, "axis": {"orient": "bottom", "values": [0.1,0.2,0.3,0.4,0.6,0.7,0.8,0.9,1.1,1.2,1.3,1.4,1.6,1.7,1.8,1.9,2.1,2.2,2.3,2.4], "labels": false, "tickSize": -2.5, "title": null}},
    "y": {"field": "v", "type": "quantitative", "scale": {"domain": [0, 110], "nice": false, "zero": false}, "axis": {"orient": "left", "values": [5,10,15,25,30,35,45,50,55,65,70,75,85,90,95,105], "labels": false, "tickSize": -2.5, "title": null}},
    "strokeDash": {"field": "s", "type": "nominal", "scale": {"domain": ["dd", "fit", "dot", "ldash", "solid"], "range": [[6, 2, 1.5, 2], [5, 2.5], [1.5, 1.5], [9, 5], [1, 0]]}, "legend": null}}},
  {"data": {"name": "obs"}, "transform": [{"filter": "datum.g === 'NGC4605'"}], "mark": {"type": "circle", "size": 8, "color": "#000", "opacity": 1},
   "encoding": {
    "x": {"field": "r", "type": "quantitative", "scale": {"domain": [-0.045, 2.48], "nice": false, "zero": false}, "axis": {"orient": "top", "values": [0.1,0.2,0.3,0.4,0.6,0.7,0.8,0.9,1.1,1.2,1.3,1.4,1.6,1.7,1.8,1.9,2.1,2.2,2.3,2.4], "labels": false, "tickSize": -2.5, "title": null}},
    "y": {"field": "v", "type": "quantitative", "scale": {"domain": [0, 110], "nice": false, "zero": false}, "axis": {"orient": "right", "values": [5,10,15,25,30,35,45,50,55,65,70,75,85,90,95,105], "labels": false, "tickSize": -2.5, "title": null}}}}
 ]
},
{
 "width": 316, "height": 194.5,
 "title": {"text": "NGC5949", "anchor": "end", "offset": -52.5, "dx": -12},
 "resolve": {"axis": {"x": "independent", "y": "independent"}},
 "layer": [
  {"data": {"name": "err"}, "transform": [{"filter": "datum.g === 'NGC5949'"}], "mark": {"type": "rule", "color": "#b5b5b5", "strokeWidth": 1},
   "encoding": {
    "x": {"field": "r", "type": "quantitative", "scale": {"domain": [-0.074, 4.02], "nice": false, "zero": false}, "axis": {"orient": "bottom", "values": [0, 1, 2, 3, 4], "format": "d", "tickSize": -5, "labelPadding": 9, "title": null}},
    "y": {"field": "lo", "type": "quantitative", "scale": {"domain": [0, 150], "nice": false, "zero": false}, "axis": {"orient": "left", "values": [0, 20, 40, 60, 80, 100, 120, 140], "tickSize": -5, "labelPadding": 9, "title": "Rotation Velocity v [km/s]", "titleFontSize": 20, "titlePadding": 6, "titleY": 82}},
    "y2": {"field": "hi"}}},
  {"data": {"name": "err"}, "transform": [{"filter": "datum.g === 'NGC5949'"}], "mark": {"type": "point", "filled": true, "size": 7, "color": "#8a8a8a", "opacity": 1},
   "encoding": {
    "x": {"field": "r", "type": "quantitative", "scale": {"domain": [-0.074, 4.02], "nice": false, "zero": false}, "axis": {"orient": "top", "values": [0, 1, 2, 3, 4], "labels": false, "tickSize": -5, "title": null}},
    "y": {"field": "v", "type": "quantitative", "scale": {"domain": [0, 150], "nice": false, "zero": false}, "axis": {"orient": "right", "values": [0, 20, 40, 60, 80, 100, 120, 140], "labels": false, "tickSize": -5, "title": null}}}},
  {"data": {"name": "curves"}, "transform": [{"filter": "datum.g === 'NGC5949'"}], "mark": {"type": "line", "color": "#111", "strokeWidth": 1.4},
   "encoding": {
    "x": {"field": "r", "type": "quantitative", "scale": {"domain": [-0.074, 4.02], "nice": false, "zero": false}, "axis": {"orient": "bottom", "values": [0.2,0.4,0.6,0.8,1.2,1.4,1.6,1.8,2.2,2.4,2.6,2.8,3.2,3.4,3.6,3.8], "labels": false, "tickSize": -2.5, "title": null}},
    "y": {"field": "v", "type": "quantitative", "scale": {"domain": [0, 150], "nice": false, "zero": false}, "axis": {"orient": "left", "values": [5,10,15,25,30,35,45,50,55,65,70,75,85,90,95,105,110,115,125,130,135,145], "labels": false, "tickSize": -2.5, "title": null}},
    "strokeDash": {"field": "s", "type": "nominal", "scale": {"domain": ["dd", "fit", "dot", "ldash", "solid"], "range": [[6, 2, 1.5, 2], [5, 2.5], [1.5, 1.5], [9, 5], [1, 0]]}, "legend": null}}},
  {"data": {"name": "obs"}, "transform": [{"filter": "datum.g === 'NGC5949'"}], "mark": {"type": "circle", "size": 8, "color": "#000", "opacity": 1},
   "encoding": {
    "x": {"field": "r", "type": "quantitative", "scale": {"domain": [-0.074, 4.02], "nice": false, "zero": false}, "axis": {"orient": "top", "values": [0.2,0.4,0.6,0.8,1.2,1.4,1.6,1.8,2.2,2.4,2.6,2.8,3.2,3.4,3.6,3.8], "labels": false, "tickSize": -2.5, "title": null}},
    "y": {"field": "v", "type": "quantitative", "scale": {"domain": [0, 150], "nice": false, "zero": false}, "axis": {"orient": "right", "values": [5,10,15,25,30,35,45,50,55,65,70,75,85,90,95,105,110,115,125,130,135,145], "labels": false, "tickSize": -2.5, "title": null}}}}
 ]
},
{
 "width": 316, "height": 194.5,
 "title": {"text": "NGC5963", "anchor": "end", "offset": -27, "dx": -12},
 "resolve": {"axis": {"x": "independent", "y": "independent"}},
 "layer": [
  {"data": {"name": "err"}, "transform": [{"filter": "datum.g === 'NGC5963'"}], "mark": {"type": "rule", "color": "#b5b5b5", "strokeWidth": 1},
   "encoding": {
    "x": {"field": "r", "type": "quantitative", "scale": {"domain": [-0.074, 4.03], "nice": false, "zero": false}, "axis": {"orient": "bottom", "values": [0, 1, 2, 3, 4], "format": "d", "tickSize": -5, "labelPadding": 9, "title": null}},
    "y": {"field": "lo", "type": "quantitative", "scale": {"domain": [0, 150], "nice": false, "zero": false}, "axis": {"orient": "left", "values": [0, 20, 40, 60, 80, 100, 120, 140], "tickSize": -5, "labelPadding": 9, "title": null}},
    "y2": {"field": "hi"}}},
  {"data": {"name": "err"}, "transform": [{"filter": "datum.g === 'NGC5963'"}], "mark": {"type": "point", "filled": true, "size": 7, "color": "#8a8a8a", "opacity": 1},
   "encoding": {
    "x": {"field": "r", "type": "quantitative", "scale": {"domain": [-0.074, 4.03], "nice": false, "zero": false}, "axis": {"orient": "top", "values": [0, 1, 2, 3, 4], "labels": false, "tickSize": -5, "title": null}},
    "y": {"field": "v", "type": "quantitative", "scale": {"domain": [0, 150], "nice": false, "zero": false}, "axis": {"orient": "right", "values": [0, 20, 40, 60, 80, 100, 120, 140], "labels": false, "tickSize": -5, "title": null}}}},
  {"data": {"name": "curves"}, "transform": [{"filter": "datum.g === 'NGC5963'"}], "mark": {"type": "line", "color": "#111", "strokeWidth": 1.4},
   "encoding": {
    "x": {"field": "r", "type": "quantitative", "scale": {"domain": [-0.074, 4.03], "nice": false, "zero": false}, "axis": {"orient": "bottom", "values": [0.2,0.4,0.6,0.8,1.2,1.4,1.6,1.8,2.2,2.4,2.6,2.8,3.2,3.4,3.6,3.8], "labels": false, "tickSize": -2.5, "title": null}},
    "y": {"field": "v", "type": "quantitative", "scale": {"domain": [0, 150], "nice": false, "zero": false}, "axis": {"orient": "left", "values": [5,10,15,25,30,35,45,50,55,65,70,75,85,90,95,105,110,115,125,130,135,145], "labels": false, "tickSize": -2.5, "title": null}},
    "strokeDash": {"field": "s", "type": "nominal", "scale": {"domain": ["dd", "fit", "dot", "ldash", "solid"], "range": [[6, 2, 1.5, 2], [5, 2.5], [1.5, 1.5], [9, 5], [1, 0]]}, "legend": null}}},
  {"data": {"name": "obs"}, "transform": [{"filter": "datum.g === 'NGC5963'"}], "mark": {"type": "circle", "size": 8, "color": "#000", "opacity": 1},
   "encoding": {
    "x": {"field": "r", "type": "quantitative", "scale": {"domain": [-0.074, 4.03], "nice": false, "zero": false}, "axis": {"orient": "top", "values": [0.2,0.4,0.6,0.8,1.2,1.4,1.6,1.8,2.2,2.4,2.6,2.8,3.2,3.4,3.6,3.8], "labels": false, "tickSize": -2.5, "title": null}},
    "y": {"field": "v", "type": "quantitative", "scale": {"domain": [0, 150], "nice": false, "zero": false}, "axis": {"orient": "right", "values": [5,10,15,25,30,35,45,50,55,65,70,75,85,90,95,105,110,115,125,130,135,145], "labels": false, "tickSize": -2.5, "title": null}}}}
 ]
},
{
 "width": 316, "height": 194.5,
 "title": {"text": "NGC6689", "anchor": "end", "offset": -27, "dx": -12},
 "resolve": {"axis": {"x": "independent", "y": "independent"}},
 "layer": [
  {"data": {"name": "err"}, "transform": [{"filter": "datum.g === 'NGC6689'"}], "mark": {"type": "rule", "color": "#b5b5b5", "strokeWidth": 1},
   "encoding": {
    "x": {"field": "r", "type": "quantitative", "scale": {"domain": [-0.116, 5.94], "nice": false, "zero": false}, "axis": {"orient": "bottom", "values": [0, 1, 2, 3, 4, 5], "format": "d", "tickSize": -5, "labelPadding": 9, "title": "Galactocentric Radius r [kpc]", "titlePadding": 4}},
    "y": {"field": "lo", "type": "quantitative", "scale": {"domain": [0, 149], "nice": false, "zero": false}, "axis": {"orient": "left", "values": [0, 20, 40, 60, 80, 100, 120, 140], "tickSize": -5, "labelPadding": 9, "title": null}},
    "y2": {"field": "hi"}}},
  {"data": {"name": "err"}, "transform": [{"filter": "datum.g === 'NGC6689'"}], "mark": {"type": "point", "filled": true, "size": 7, "color": "#8a8a8a", "opacity": 1},
   "encoding": {
    "x": {"field": "r", "type": "quantitative", "scale": {"domain": [-0.116, 5.94], "nice": false, "zero": false}, "axis": {"orient": "top", "values": [0, 1, 2, 3, 4, 5], "labels": false, "tickSize": -5, "title": null}},
    "y": {"field": "v", "type": "quantitative", "scale": {"domain": [0, 149], "nice": false, "zero": false}, "axis": {"orient": "right", "values": [0, 20, 40, 60, 80, 100, 120, 140], "labels": false, "tickSize": -5, "title": null}}}},
  {"data": {"name": "curves"}, "transform": [{"filter": "datum.g === 'NGC6689'"}], "mark": {"type": "line", "color": "#111", "strokeWidth": 1.4},
   "encoding": {
    "x": {"field": "r", "type": "quantitative", "scale": {"domain": [-0.116, 5.94], "nice": false, "zero": false}, "axis": {"orient": "bottom", "values": [0.2,0.4,0.6,0.8,1.2,1.4,1.6,1.8,2.2,2.4,2.6,2.8,3.2,3.4,3.6,3.8,4.2,4.4,4.6,4.8,5.2,5.4,5.6,5.8], "labels": false, "tickSize": -2.5, "title": null}},
    "y": {"field": "v", "type": "quantitative", "scale": {"domain": [0, 149], "nice": false, "zero": false}, "axis": {"orient": "left", "values": [5,10,15,25,30,35,45,50,55,65,70,75,85,90,95,105,110,115,125,130,135,145], "labels": false, "tickSize": -2.5, "title": null}},
    "strokeDash": {"field": "s", "type": "nominal", "scale": {"domain": ["dd", "fit", "dot", "ldash", "solid"], "range": [[6, 2, 1.5, 2], [5, 2.5], [1.5, 1.5], [9, 5], [1, 0]]}, "legend": null}}},
  {"data": {"name": "obs"}, "transform": [{"filter": "datum.g === 'NGC6689'"}], "mark": {"type": "circle", "size": 8, "color": "#000", "opacity": 1},
   "encoding": {
    "x": {"field": "r", "type": "quantitative", "scale": {"domain": [-0.116, 5.94], "nice": false, "zero": false}, "axis": {"orient": "top", "values": [0.2,0.4,0.6,0.8,1.2,1.4,1.6,1.8,2.2,2.4,2.6,2.8,3.2,3.4,3.6,3.8,4.2,4.4,4.6,4.8,5.2,5.4,5.6,5.8], "labels": false, "tickSize": -2.5, "title": null}},
    "y": {"field": "v", "type": "quantitative", "scale": {"domain": [0, 149], "nice": false, "zero": false}, "axis": {"orient": "right", "values": [5,10,15,25,30,35,45,50,55,65,70,75,85,90,95,105,110,115,125,130,135,145], "labels": false, "tickSize": -2.5, "title": null}}}}
 ]
}
]
}
